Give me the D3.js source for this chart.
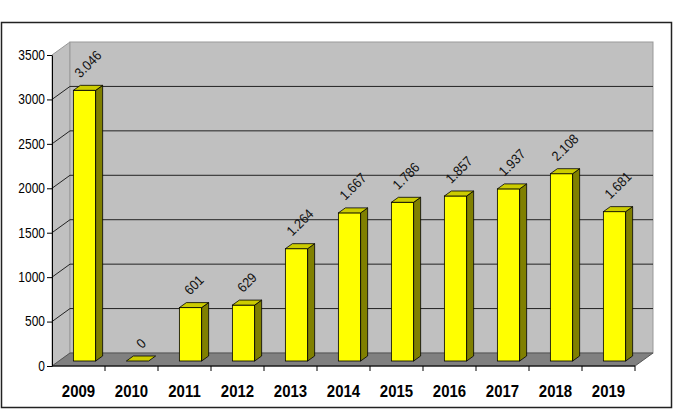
<!DOCTYPE html>
<html>
<head>
<meta charset="utf-8">
<script src="https://cdn.jsdelivr.net/npm/d3@7"></script>
<style>
  body { margin: 0; background: #fff; }
  text { font-family: "Liberation Sans", Arial, sans-serif; }
</style>
</head>
<body>
<div id="chart"></div>
<script>
// chart data
var years = ["2009", "2010", "2011", "2012", "2013", "2014", "2015", "2016", "2017", "2018", "2019"];
var counts = [3046, 0, 601, 629, 1264, 1667, 1786, 1857, 1937, 2108, 1681];
var yTicks = [0, 500, 1000, 1500, 2000, 2500, 3000, 3500];

var W = 675, H = 411;
var plotLeft = 52, plotRight = 635, plotBottom = 366, plotTop = 55;
var dx = 18, dy = -13;        // wall depth
var bx = 6, by = -5;          // bar front offset inside depth
var bdx = 7, bdy = -5;        // bar depth

// european thousands separator
var fmt = d3.formatLocale({decimal: ",", thousands: ".", grouping: [3], currency: ["", ""]}).format(",d");

var svg = d3.select("#chart").append("svg")
    .attr("width", W)
    .attr("height", H);

var x = d3.scaleBand().domain(years).range([plotLeft, plotRight]).paddingInner(0.58).paddingOuter(0.29);
var y = d3.scaleLinear().domain([0, 3500]).range([plotBottom, plotTop]);

// outer frame
svg.append("rect")
    .attr("x", 1.5).attr("y", 22.5)
    .attr("width", 670).attr("height", 385)
    .attr("fill", "#fff")
    .attr("stroke", "#222")
    .attr("stroke-width", 1.5);

// left wall
svg.append("polygon")
    .attr("points", [[plotLeft, y(3500)], [plotLeft + dx, y(3500) + dy], [plotLeft + dx, plotBottom + dy], [plotLeft, plotBottom]].join(" "))
    .attr("fill", "#c0c0c0")
    .attr("stroke", "#999");

// back wall
svg.append("rect")
    .attr("x", plotLeft + dx).attr("y", y(3500) + dy)
    .attr("width", plotRight - plotLeft).attr("height", plotBottom - y(3500))
    .attr("fill", "#c0c0c0")
    .attr("stroke", "#999");

// floor
svg.append("polygon")
    .attr("points", [[plotLeft, plotBottom], [plotRight, plotBottom], [plotRight + dx, plotBottom + dy], [plotLeft + dx, plotBottom + dy]].join(" "))
    .attr("fill", "#808080")
    .attr("stroke", "#555");

// gridlines on back and left wall
var grid = svg.append("g");
yTicks.filter(function(d) { return d > 0 && d < 3500; }).forEach(function(d) {
    grid.append("line")
        .attr("x1", plotLeft + dx).attr("x2", plotRight + dx)
        .attr("y1", y(d) + dy).attr("y2", y(d) + dy)
        .attr("stroke", "#222");
    grid.append("line")
        .attr("x1", plotLeft).attr("x2", plotLeft + dx)
        .attr("y1", y(d)).attr("y2", y(d) + dy)
        .attr("stroke", "#222");
});

// y axis
var yAxis = svg.append("g")
    .attr("transform", "translate(" + plotLeft + ",0)")
    .call(d3.axisLeft(y).tickValues(yTicks).tickSize(5).tickSizeOuter(0).tickFormat(d3.format("d")));
yAxis.selectAll("text")
    .attr("font-size", 12)
    .attr("fill", "#000")
    .attr("x", -7)
    .attr("dy", "0.3em")
    .attr("transform", "scale(1,1.2)")
    .attr("font-family", "Liberation Sans, Arial, sans-serif");
yAxis.selectAll("line, path").attr("stroke", "#000");

// x axis ticks at category boundaries
var xTicks = svg.append("g");
years.forEach(function(d, i) {
    var xb = plotLeft + x.step() * (i + 1);
    xTicks.append("line")
        .attr("x1", xb).attr("x2", xb)
        .attr("y1", plotBottom).attr("y2", plotBottom + 5)
        .attr("stroke", "#000");
});
svg.append("line")
    .attr("x1", plotLeft).attr("x2", plotRight)
    .attr("y1", plotBottom).attr("y2", plotBottom)
    .attr("stroke", "#000");

svg.append("g").selectAll("text")
    .data(years)
    .enter().append("text")
    .attr("transform", function(d, i) { return "translate(" + (plotLeft + x.step() * (i + 0.5)) + ",397) scale(1,1.1)"; })
    .attr("text-anchor", "middle")
    .attr("font-size", 15)
    .attr("font-weight", "bold")
    .attr("fill", "#000")
    .text(function(d) { return d; });

// 3d bars
var bars = svg.append("g").selectAll("g")
    .data(years.map(function(d, i) { return {year: d, value: counts[i]}; }))
    .enter().append("g")
    .attr("transform", "translate(" + bx + "," + by + ")");

bars.each(function(d) {
    var g = d3.select(this);
    var x0 = x(d.year), x1 = x0 + x.bandwidth();
    var yt = y(d.value), yb = y(0);
    if (d.value > 0) {
        g.append("rect")
            .attr("x", x0).attr("y", yt)
            .attr("width", x.bandwidth()).attr("height", yb - yt)
            .attr("fill", "#ffff00").attr("stroke", "#000").attr("stroke-width", 0.8);
        g.append("polygon")
            .attr("points", [[x1, yt], [x1 + bdx, yt + bdy], [x1 + bdx, yb + bdy], [x1, yb]].join(" "))
            .attr("fill", "#808000").attr("stroke", "#000").attr("stroke-width", 0.8);
    }
    g.append("polygon")
        .attr("points", [[x0, yt], [x1, yt], [x1 + bdx, yt + bdy], [x0 + bdx, yt + bdy]].join(" "))
        .attr("fill", "#cccc00").attr("stroke", "#000").attr("stroke-width", 0.8);
});

// rotated value labels
bars.each(function(d) {
    var g = d3.select(this);
    var cx = x(d.year) + x.bandwidth() / 2 + bdx / 2;
    var t = g.append("text")
        .attr("text-anchor", "middle")
        .attr("dy", "0.35em")
        .attr("font-size", 12.5)
        .attr("fill", "#111")
        .text(fmt(d.value));
    var len = t.node().getComputedTextLength();
    var cy = y(d.value) + bdy - 6 - (len + 12) * 0.707 / 2;
    t.attr("transform", "translate(" + cx + "," + cy + ") rotate(-45) scale(1,1.1)");
});
</script>
</body>
</html>
